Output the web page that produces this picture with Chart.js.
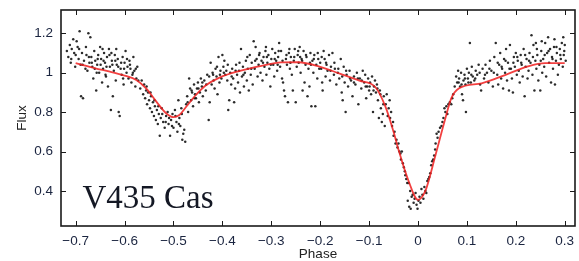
<!DOCTYPE html>
<html>
<head>
<meta charset="utf-8">
<script src="https://cdn.jsdelivr.net/npm/chart.js@4.4.0/dist/chart.umd.min.js"></script>
<style>
html, body { margin: 0; padding: 0; background: #fff; }
</style>
</head>
<body>
<canvas id="lightCurve" width="579" height="261"></canvas>
<script>
// axis ticks
const xTicks = [-0.7, -0.6, -0.5, -0.4, -0.3, -0.2, -0.1, 0, 0.1, 0.2, 0.3];
const yTicks = [0.4, 0.6, 0.8, 1, 1.2];
const starName = 'V435 Cas';

// model light curve (red line)
const modelPhase = [-0.70, -0.66, -0.63, -0.60, -0.576, -0.556, -0.535, -0.515, -0.50, -0.488, -0.474, -0.454, -0.433, -0.406, -0.366,
    -0.32, -0.28, -0.245, -0.20, -0.16, -0.12, -0.087, -0.067, -0.05, -0.04, -0.02, 0.0, 0.015, 0.035, 0.055, 0.068, 0.084,
    0.13, 0.178, 0.225, 0.26, 0.30];
const modelFlux = [1.048, 1.022, 1.005, 0.985, 0.963, 0.92, 0.853, 0.794, 0.774, 0.785, 0.827, 0.887, 0.937, 0.975, 1.008,
    1.035, 1.052, 1.053, 1.030, 0.995, 0.96, 0.926, 0.83, 0.70, 0.61, 0.455, 0.355, 0.40, 0.575, 0.76, 0.87, 0.921,
    0.946, 0.988, 1.032, 1.048, 1.048];

// observations, [phase, flux]
const obsLeft = [
    [-0.718, 1.11], [-0.715, 1.08], [-0.712, 1.14], [-0.710, 1.05], [-0.708, 1.12], [-0.705, 1.17], [-0.703, 1.10], [-0.700, 1.09],
    [-0.698, 1.16], [-0.696, 1.13], [-0.694, 1.07], [-0.692, 1.21], [-0.690, 1.04], [-0.689, 0.88], [-0.687, 1.10], [-0.685, 0.87],
    [-0.683, 1.06], [-0.680, 1.02], [-0.678, 1.09], [-0.676, 1.01], [-0.674, 1.20], [-0.672, 1.05], [-0.670, 1.18], [-0.668, 1.08],
    [-0.666, 1.03], [-0.664, 0.97], [-0.662, 1.11], [-0.660, 1.06], [-0.658, 0.91], [-0.656, 1.04], [-0.654, 1.09], [-0.652, 1.00],
    [-0.650, 1.13], [-0.648, 1.07], [-0.646, 0.95], [-0.644, 1.02], [-0.642, 1.10], [-0.640, 1.05], [-0.638, 0.98], [-0.636, 1.08],
    [-0.634, 0.93], [-0.632, 1.12], [-0.630, 1.03], [-0.628, 0.81], [-0.626, 1.06], [-0.624, 0.88], [-0.622, 1.01], [-0.620, 1.09],
    [-0.618, 0.96], [-0.616, 1.04], [-0.614, 1.07], [-0.612, 0.80], [-0.610, 0.78], [-0.608, 1.02], [-0.606, 0.99], [-0.604, 1.08],
    [-0.602, 0.94], [-0.600, 1.05], [-0.598, 1.11], [-0.596, 1.00], [-0.594, 1.03], [-0.592, 0.97], [-0.590, 1.06], [-0.588, 1.02],
    [-0.586, 0.95], [-0.584, 0.99], [-0.582, 1.08], [-0.580, 1.01], [-0.578, 0.93], [-0.576, 0.97], [-0.574, 1.03], [-0.572, 0.96],
    [-0.709, 1.07], [-0.701, 1.03], [-0.693, 1.12], [-0.686, 1.04], [-0.679, 1.13], [-0.673, 1.08], [-0.667, 1.05], [-0.661, 1.02],
    [-0.655, 1.07], [-0.649, 1.04], [-0.643, 1.06], [-0.637, 1.03], [-0.631, 1.09], [-0.625, 1.04], [-0.619, 1.06], [-0.613, 1.03],
    [-0.607, 1.05], [-0.601, 1.02], [-0.595, 1.07], [-0.589, 1.04], [-0.583, 1.00], [-0.577, 1.02], [-0.645, 1.12], [-0.627, 1.10],
    [-0.617, 1.12], [-0.657, 1.00], [-0.639, 0.99], [-0.603, 0.97]
];
const obsSecondary = [
    [-0.568, 0.92], [-0.565, 0.96], [-0.562, 0.89], [-0.560, 0.94], [-0.558, 0.87], [-0.556, 0.91], [-0.554, 0.84], [-0.552, 0.90],
    [-0.550, 0.86], [-0.548, 0.82], [-0.546, 0.88], [-0.544, 0.80], [-0.542, 0.85], [-0.540, 0.78], [-0.538, 0.83], [-0.536, 0.76],
    [-0.534, 0.81], [-0.532, 0.74], [-0.530, 0.79], [-0.528, 0.68], [-0.526, 0.77], [-0.524, 0.82], [-0.521, 0.75], [-0.518, 0.72],
    [-0.515, 0.78], [-0.512, 0.80], [-0.510, 0.74], [-0.507, 0.68], [-0.505, 0.76], [-0.502, 0.79], [-0.500, 0.72], [-0.497, 0.81],
    [-0.494, 0.75], [-0.492, 0.70], [-0.490, 0.86], [-0.488, 0.77], [-0.486, 0.73], [-0.484, 0.82], [-0.482, 0.66], [-0.480, 0.69],
    [-0.478, 0.71], [-0.476, 0.65], [-0.474, 0.84], [-0.472, 0.88], [-0.470, 0.80], [-0.468, 0.97], [-0.466, 0.92], [-0.464, 0.86],
    [-0.462, 0.90], [-0.460, 0.83], [-0.458, 0.94], [-0.456, 0.89], [-0.454, 0.87], [-0.452, 0.92], [-0.450, 0.95], [-0.448, 0.85],
    [-0.446, 0.90], [-0.444, 0.97], [-0.442, 0.93], [-0.440, 0.88], [-0.437, 0.96], [-0.434, 0.91], [-0.431, 0.99], [-0.428, 0.76],
    [-0.426, 0.85], [-0.424, 1.05], [-0.422, 0.94], [-0.420, 1.00], [-0.418, 0.96], [-0.416, 0.92], [-0.414, 1.02], [-0.412, 0.98],
    [-0.410, 0.89], [-0.408, 1.08], [-0.406, 0.95], [-0.404, 1.01], [-0.402, 0.97], [-0.400, 1.09],
    [-0.555, 0.93], [-0.547, 0.90], [-0.539, 0.86], [-0.531, 0.83], [-0.523, 0.79], [-0.516, 0.75], [-0.509, 0.77], [-0.503, 0.73],
    [-0.496, 0.78], [-0.489, 0.74], [-0.483, 0.79], [-0.471, 0.85], [-0.463, 0.91], [-0.457, 0.87], [-0.449, 0.92], [-0.441, 0.95],
    [-0.433, 0.94], [-0.427, 0.98], [-0.419, 0.99], [-0.411, 1.03], [-0.405, 0.99]
];
const obsMaximum = [
    [-0.398, 1.03], [-0.396, 1.06], [-0.394, 0.99], [-0.392, 1.01], [-0.390, 0.96], [-0.388, 0.81], [-0.386, 0.86], [-0.384, 1.00],
    [-0.382, 0.94], [-0.380, 1.02], [-0.378, 0.97], [-0.376, 0.85], [-0.374, 0.92], [-0.372, 1.04], [-0.370, 0.99], [-0.368, 0.95],
    [-0.366, 1.01], [-0.364, 0.90], [-0.362, 1.12], [-0.360, 0.98], [-0.358, 1.03], [-0.356, 0.93], [-0.354, 1.00], [-0.352, 1.06],
    [-0.350, 0.96], [-0.348, 1.02], [-0.346, 0.91], [-0.344, 1.09], [-0.342, 0.99], [-0.340, 1.05], [-0.338, 0.94], [-0.336, 1.16],
    [-0.334, 1.02], [-0.332, 1.13], [-0.330, 1.07], [-0.328, 0.98], [-0.326, 1.04], [-0.324, 1.10], [-0.322, 1.00], [-0.320, 1.06],
    [-0.318, 0.96], [-0.316, 1.08], [-0.314, 1.03], [-0.312, 1.11], [-0.310, 0.99], [-0.308, 1.05], [-0.306, 1.09], [-0.304, 1.02],
    [-0.302, 0.93], [-0.300, 1.07], [-0.298, 1.12], [-0.296, 1.04], [-0.294, 0.98], [-0.292, 1.10], [-0.290, 1.06], [-0.288, 1.01],
    [-0.286, 1.08], [-0.284, 1.15], [-0.282, 1.03], [-0.280, 1.11], [-0.278, 0.97], [-0.276, 0.95], [-0.274, 0.91], [-0.272, 0.88],
    [-0.270, 1.07], [-0.268, 1.04], [-0.266, 0.85], [-0.264, 1.10], [-0.262, 1.02], [-0.260, 1.08], [-0.258, 0.99], [-0.256, 0.91],
    [-0.254, 1.06], [-0.252, 1.12], [-0.250, 0.85], [-0.248, 1.03], [-0.246, 1.09], [-0.244, 1.05], [-0.242, 1.13], [-0.240, 1.00],
    [-0.238, 1.07], [-0.236, 0.91], [-0.234, 1.11], [-0.232, 0.95], [-0.230, 1.04], [-0.228, 1.08], [-0.226, 0.88], [-0.224, 1.02],
    [-0.222, 0.93], [-0.220, 1.10], [-0.218, 0.83], [-0.216, 1.06], [-0.214, 1.00], [-0.212, 1.09], [-0.210, 0.83], [-0.208, 1.04],
    [-0.206, 0.97], [-0.204, 1.07], [-0.202, 1.02],
    [-0.397, 1.00], [-0.389, 1.04], [-0.381, 0.98], [-0.373, 1.01], [-0.365, 1.05], [-0.357, 0.99], [-0.349, 1.08], [-0.341, 1.02],
    [-0.333, 1.06], [-0.325, 1.09], [-0.317, 1.05], [-0.309, 1.08], [-0.301, 1.04], [-0.293, 1.07], [-0.285, 1.11], [-0.277, 1.06],
    [-0.269, 1.09], [-0.261, 1.05], [-0.253, 1.08], [-0.245, 1.11], [-0.237, 1.06], [-0.229, 1.09], [-0.221, 1.05], [-0.213, 1.07],
    [-0.205, 1.10], [-0.311, 1.13], [-0.287, 1.04], [-0.263, 1.12], [-0.241, 1.08], [-0.219, 1.04]
];
const obsIngress = [
    [-0.200, 1.05], [-0.198, 1.02], [-0.196, 0.95], [-0.195, 0.91], [-0.193, 1.11], [-0.191, 1.07], [-0.189, 0.98], [-0.187, 1.04],
    [-0.185, 1.01], [-0.182, 1.09], [-0.180, 0.96], [-0.178, 1.03], [-0.175, 1.10], [-0.172, 0.99], [-0.170, 1.02], [-0.167, 0.94],
    [-0.164, 1.00], [-0.161, 0.97], [-0.158, 1.07], [-0.156, 0.90], [-0.154, 0.86], [-0.152, 1.03], [-0.150, 0.95], [-0.148, 0.80],
    [-0.146, 0.99], [-0.143, 0.93], [-0.140, 1.01], [-0.137, 0.96], [-0.134, 0.88], [-0.131, 0.98], [-0.128, 0.94], [-0.125, 1.00],
    [-0.122, 0.84], [-0.119, 0.97], [-0.116, 0.92], [-0.113, 1.01], [-0.110, 0.95], [-0.108, 0.99], [-0.106, 0.87], [-0.104, 0.93],
    [-0.102, 0.97], [-0.100, 0.91], [-0.098, 0.95], [-0.096, 0.89], [-0.094, 0.98], [-0.092, 0.80], [-0.090, 0.93], [-0.088, 0.96],
    [-0.086, 0.90], [-0.084, 0.94], [-0.082, 0.86], [-0.080, 0.77], [-0.078, 0.91], [-0.076, 0.82], [-0.074, 0.75], [-0.072, 0.79],
    [-0.070, 0.88], [-0.068, 0.73], [-0.066, 0.84], [-0.064, 0.89], [-0.062, 0.78],
    [-0.197, 1.08], [-0.188, 1.05], [-0.179, 1.01], [-0.171, 1.05], [-0.163, 1.02], [-0.155, 0.98], [-0.147, 1.01], [-0.139, 0.97],
    [-0.131, 0.95], [-0.123, 0.97], [-0.115, 0.96], [-0.107, 0.93], [-0.099, 0.93], [-0.091, 0.91], [-0.083, 0.92], [-0.077, 0.89],
    [-0.071, 0.84]
];
const obsPrimary = [
    [-0.060, 0.82], [-0.058, 0.86], [-0.057, 0.77], [-0.055, 0.80], [-0.053, 0.73], [-0.051, 0.75], [-0.050, 0.68], [-0.048, 0.70],
    [-0.046, 0.64], [-0.044, 0.66], [-0.042, 0.62], [-0.040, 0.64], [-0.038, 0.60], [-0.036, 0.59], [-0.035, 0.56], [-0.033, 0.60],
    [-0.031, 0.54], [-0.029, 0.52], [-0.027, 0.50], [-0.026, 0.48], [-0.024, 0.46], [-0.022, 0.44], [-0.021, 0.35], [-0.019, 0.44],
    [-0.018, 0.32], [-0.016, 0.40], [-0.015, 0.31], [-0.013, 0.37], [-0.011, 0.38], [-0.009, 0.34], [-0.007, 0.36], [-0.005, 0.39],
    [-0.003, 0.33], [-0.001, 0.31], [0.001, 0.35], [0.003, 0.37], [0.005, 0.34], [0.007, 0.41], [0.009, 0.38], [0.011, 0.36],
    [0.013, 0.42], [0.015, 0.40], [0.017, 0.39], [0.019, 0.45], [0.021, 0.46], [0.023, 0.47], [0.025, 0.49], [0.027, 0.53],
    [0.029, 0.55], [0.031, 0.56], [0.033, 0.58], [0.035, 0.61], [0.036, 0.64], [0.038, 0.69], [0.040, 0.67], [0.042, 0.70],
    [0.045, 0.72], [0.048, 0.73], [0.050, 0.75], [0.052, 0.77], [0.054, 0.82], [0.056, 0.80], [0.058, 0.83], [0.060, 0.79],
    [0.062, 0.84], [0.065, 0.85], [0.068, 0.84], [0.070, 0.87]
];
const obsRight = [
    [0.072, 0.89], [0.075, 0.93], [0.078, 0.98], [0.080, 0.95], [0.082, 1.01], [0.084, 0.97], [0.086, 0.93], [0.088, 1.00],
    [0.090, 0.89], [0.092, 0.86], [0.093, 0.96], [0.095, 0.99], [0.097, 0.94], [0.098, 0.80], [0.100, 1.02], [0.102, 0.97],
    [0.104, 1.00], [0.106, 1.15], [0.108, 0.95], [0.110, 1.03], [0.112, 0.98], [0.115, 0.96], [0.118, 1.01], [0.121, 0.99],
    [0.124, 1.04], [0.127, 0.94], [0.129, 0.91], [0.132, 1.02], [0.135, 0.97], [0.138, 1.04], [0.141, 1.00], [0.144, 0.95],
    [0.147, 1.06], [0.150, 1.01], [0.153, 0.93], [0.156, 1.08], [0.159, 1.15], [0.162, 0.99], [0.164, 0.94], [0.166, 1.04],
    [0.168, 1.10], [0.170, 0.97], [0.172, 1.02], [0.174, 0.92], [0.176, 1.07], [0.178, 1.00], [0.180, 1.12], [0.182, 0.96],
    [0.184, 1.05], [0.186, 0.91], [0.188, 1.14], [0.190, 1.02], [0.192, 0.97], [0.194, 0.90], [0.196, 1.08], [0.198, 1.03],
    [0.200, 1.10], [0.202, 0.99], [0.204, 1.06], [0.206, 1.01], [0.208, 0.95], [0.210, 1.09], [0.212, 1.04], [0.214, 0.98],
    [0.216, 1.12], [0.218, 0.88], [0.220, 1.03], [0.222, 1.07], [0.224, 0.97], [0.226, 1.01], [0.228, 1.10], [0.230, 1.05],
    [0.232, 1.19], [0.234, 0.99], [0.236, 1.14], [0.238, 0.91], [0.240, 1.06], [0.242, 1.02], [0.244, 1.09], [0.246, 0.96],
    [0.248, 1.04], [0.250, 0.91], [0.252, 1.11], [0.254, 1.00], [0.256, 1.07], [0.258, 1.03], [0.260, 1.15], [0.262, 0.98],
    [0.264, 1.10], [0.266, 1.18], [0.268, 1.05], [0.270, 1.12], [0.272, 0.95], [0.274, 1.08], [0.276, 1.02], [0.278, 1.13],
    [0.280, 0.94], [0.282, 1.06], [0.284, 1.10], [0.286, 0.99], [0.288, 1.04], [0.290, 1.12], [0.292, 1.07], [0.294, 1.15],
    [0.296, 1.03], [0.298, 1.09], [0.300, 1.14], [0.302, 1.06],
    [0.083, 0.95], [0.089, 0.94], [0.096, 0.97], [0.103, 0.95], [0.109, 0.99], [0.117, 0.97], [0.126, 1.00], [0.137, 0.99],
    [0.146, 1.02], [0.155, 1.00], [0.163, 1.05], [0.171, 1.03], [0.179, 1.06], [0.187, 1.02], [0.195, 1.05], [0.203, 1.08],
    [0.211, 1.05], [0.219, 1.09], [0.227, 1.06], [0.235, 1.08], [0.243, 1.12], [0.251, 1.06], [0.259, 1.09], [0.267, 1.11],
    [0.275, 1.07], [0.283, 1.13], [0.291, 1.09], [0.299, 1.11], [0.253, 1.16], [0.279, 1.17], [0.297, 1.18], [0.241, 1.15]
];

const observations = [].concat(obsLeft, obsSecondary, obsMaximum, obsIngress, obsPrimary, obsRight);

const labelColor = '#1b2540';
const fmt = v => {
    const s = Math.abs(v) < 1e-9 ? '0' : (Number.isInteger(v) ? String(v) : v.toFixed(1));
    return s.replace('-', '\u2212');
};

// frame, inward ticks on all four sides, star label
const framePlugin = {
    id: 'frame',
    afterDraw(chart) {
        const { ctx, chartArea: a, scales: { x, y } } = chart;
        ctx.save();
        ctx.strokeStyle = '#1a1a1a';
        ctx.lineWidth = 1;
        ctx.beginPath();
        xTicks.forEach(v => {
            const px = Math.round(x.getPixelForValue(v)) + 0.5;
            ctx.moveTo(px, a.bottom); ctx.lineTo(px, a.bottom - 5);
            ctx.moveTo(px, a.top); ctx.lineTo(px, a.top + 5);
        });
        yTicks.forEach(v => {
            const py = Math.round(y.getPixelForValue(v)) + 0.5;
            ctx.moveTo(a.left, py); ctx.lineTo(a.left + 5, py);
            ctx.moveTo(a.right, py); ctx.lineTo(a.right - 5, py);
        });
        ctx.stroke();
        ctx.lineWidth = 1.6;
        ctx.strokeRect(a.left, a.top, a.right - a.left, a.bottom - a.top);

        ctx.fillStyle = '#141824';
        ctx.font = '33px "Liberation Serif", "Times New Roman", serif';
        ctx.textBaseline = 'alphabetic';
        ctx.fillText(starName, x.getPixelForValue(-0.686), y.getPixelForValue(0.315));
        ctx.restore();
    }
};

new Chart(document.getElementById('lightCurve'), {
    type: 'scatter',
    data: {
        datasets: [
            {
                label: 'model',
                data: modelPhase.map((p, i) => ({ x: p, y: modelFlux[i] })),
                showLine: true,
                borderColor: 'rgba(240, 30, 30, 0.85)',
                borderWidth: 1.8,
                pointRadius: 0,
                cubicInterpolationMode: 'monotone',
                order: 0
            },
            {
                label: 'data',
                data: observations.map(o => ({ x: o[0], y: o[1] })),
                pointRadius: 1.25,
                pointBorderWidth: 0,
                pointBackgroundColor: 'rgba(20, 20, 20, 0.9)',
                order: 1
            }
        ]
    },
    options: {
        responsive: false,
        animation: false,
        devicePixelRatio: 1,
        layout: { padding: { left: 16, top: 10, right: 2, bottom: 0 } },
        plugins: { legend: { display: false }, tooltip: { enabled: false } },
        scales: {
            x: {
                type: 'linear',
                min: -0.73,
                max: 0.321,
                afterBuildTicks: s => { s.ticks = xTicks.map(v => ({ value: v })); },
                afterFit: s => { s.height = 35; s.paddingLeft = 0; s.paddingRight = 0; },
                grid: { display: false, drawTicks: false },
                border: { display: false },
                ticks: {
                    callback: v => fmt(v),
                    color: labelColor,
                    font: { family: 'Liberation Sans', size: 13.5 },
                    padding: 7,
                    maxRotation: 0,
                    autoSkip: false
                },
                title: { display: true, text: 'Phase', color: '#222', font: { family: 'Liberation Sans', size: 13.5, lineHeight: 1 }, padding: 0 }
            },
            y: {
                type: 'linear',
                min: 0.222,
                max: 1.318,
                afterBuildTicks: s => { s.ticks = yTicks.map(v => ({ value: v })); },
                afterFit: s => { s.width = 61 - 16; s.paddingTop = 0; s.paddingBottom = 0; },
                grid: { display: false, drawTicks: false },
                border: { display: false },
                ticks: {
                    callback: v => fmt(v),
                    color: labelColor,
                    font: { family: 'Liberation Sans', size: 13.5 },
                    padding: 8
                },
                title: { display: true, text: 'Flux', color: '#222', font: { family: 'Liberation Sans', size: 13.5, lineHeight: 1 }, padding: 0 }
            }
        }
    },
    plugins: [framePlugin]
});
</script>
</body>
</html>
